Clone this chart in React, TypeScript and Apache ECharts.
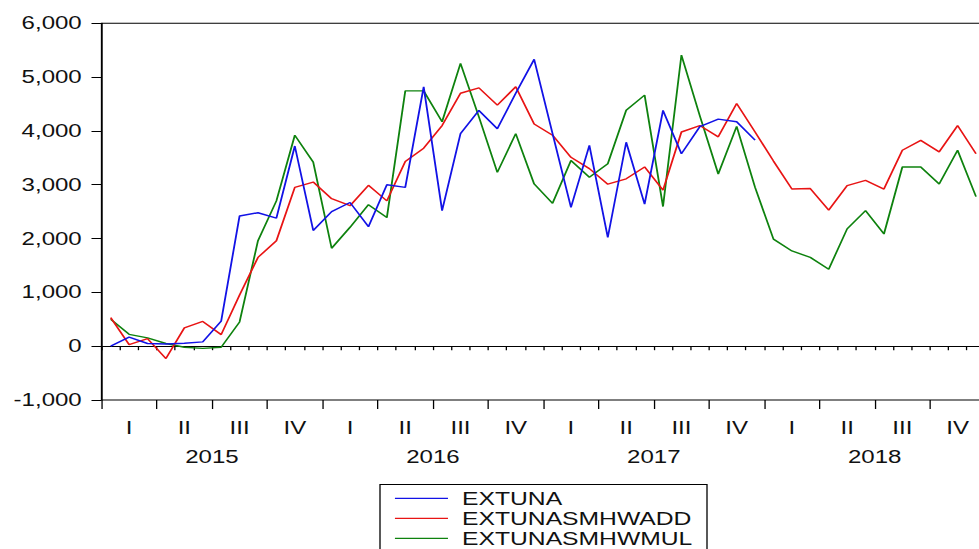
import React, { useEffect, useRef } from "react";
import * as echarts from "echarts";

// ---- data (monthly, 2015M01 .. 2018M12) ----
const months = [
  "2015M01", "2015M02", "2015M03", "2015M04", "2015M05", "2015M06",
  "2015M07", "2015M08", "2015M09", "2015M10", "2015M11", "2015M12",
  "2016M01", "2016M02", "2016M03", "2016M04", "2016M05", "2016M06",
  "2016M07", "2016M08", "2016M09", "2016M10", "2016M11", "2016M12",
  "2017M01", "2017M02", "2017M03", "2017M04", "2017M05", "2017M06",
  "2017M07", "2017M08", "2017M09", "2017M10", "2017M11", "2017M12",
  "2018M01", "2018M02", "2018M03", "2018M04", "2018M05", "2018M06",
  "2018M07", "2018M08", "2018M09", "2018M10", "2018M11", "2018M12",
];
const quarterLabels = [
  "I", "II", "III", "IV", "I", "II", "III", "IV",
  "I", "II", "III", "IV", "I", "II", "III", "IV",
];
const yearLabels = ["2015", "2016", "2017", "2018"];
const yTicks = [-1000, 0, 1000, 2000, 3000, 4000, 5000, 6000];

const seriesNames = ["EXTUNA", "EXTUNASMHWADD", "EXTUNASMHWMUL"];

const extuna = [
  0, 170, 50, 40, 55, 80, 465, 2420, 2480, 2380, 3720, 2150,
  2500, 2670, 2220, 3000, 2950, 4820, 2520, 3950, 4380, 4040, 4700, 5330,
  3950, 2580, 3730, 2020, 3790, 2640, 4380, 3575, 4080, 4220, 4170, 3830,
];
const extunaAdd = [
  530, 30, 140, -230, 340, 460, 215, 950, 1650, 1960, 2950, 3050,
  2740, 2610, 2990, 2700, 3430, 3680, 4100, 4700, 4800, 4480, 4820, 4130,
  3920, 3510, 3300, 3010, 3110, 3330, 2900, 3980, 4100, 3890, 4510, 3980,
  3440, 2920, 2930, 2530, 2985, 3080, 2920, 3640, 3825, 3610, 4100, 3575,
];
const extunaMul = [
  500, 220, 155, 50, -20, -40, -20, 450, 1960, 2700, 3920, 3420,
  1820, 2210, 2630, 2390, 4745, 4745, 4170, 5255, 4260, 3230, 3950, 3015,
  2655, 3450, 3140, 3390, 4385, 4665, 2595, 5410, 4280, 3200, 4085, 2950,
  1990, 1770, 1650, 1430, 2180, 2520, 2085, 3330, 3330, 3015, 3640, 2780,
];

const colors = ["#1212e6", "#e81414", "#0e820e"];

// ---- layout (chart drawn in unstretched coordinates, then stretched horizontally) ----
const S = 1.3;
const INNER_W = 770;
const H = 549;
const FONT = "'Liberation Sans', Arial, sans-serif";

export default function App() {
  const ref = useRef<HTMLDivElement>(null);

  useEffect(() => {
    if (!ref.current) return;
    const chart = echarts.init(ref.current, undefined, { renderer: "svg" });
    const axisStart = 101.5 / S;
    const axisEnd = 985.2 / S;
    const option: any = {
      animation: false,
      textStyle: { fontFamily: FONT },
      grid: {
        left: axisStart,
        right: INNER_W - axisEnd,
        top: 23.3,
        bottom: H - 400,
        show: true,
        borderColor: "#000",
        borderWidth: 1,
        backgroundColor: "transparent",
      },
      xAxis: [
        {
          type: "category",
          data: months,
          position: "bottom",
          boundaryGap: true,
          axisLine: { show: true, lineStyle: { color: "#000", width: 1 } },
          axisTick: { show: true, interval: 0, length: 4, lineStyle: { color: "#000", width: 1 } },
          axisLabel: { show: false },
          splitLine: { show: false },
        },
        {
          type: "category",
          data: quarterLabels,
          position: "bottom",
          boundaryGap: true,
          axisLine: { show: false },
          axisTick: { show: true, interval: 0, length: 9, lineStyle: { color: "#000", width: 1 } },
          axisLabel: { interval: 0, margin: 18.5, fontSize: 18.5, color: "#111", fontFamily: FONT },
          splitLine: { show: false },
        },
        {
          type: "category",
          data: yearLabels,
          position: "bottom",
          boundaryGap: true,
          axisLine: { show: false },
          axisTick: { show: false },
          axisLabel: { interval: 0, margin: 47.5, fontSize: 18.5, color: "#111", fontFamily: FONT },
          splitLine: { show: false },
        },
      ],
      yAxis: {
        type: "value",
        min: yTicks[0],
        max: yTicks[yTicks.length - 1],
        interval: 1000,
        axisLine: { show: true, lineStyle: { color: "#000", width: 1 } },
        axisTick: { show: true, length: 7.7, lineStyle: { color: "#000", width: 1 } },
        axisLabel: {
          margin: 15.2,
          fontSize: 18.5,
          color: "#111",
          fontFamily: FONT,
          formatter: (v: number) => v.toLocaleString("en-US"),
        },
        splitLine: { show: false },
      },
      legend: {
        orient: "vertical",
        left: 303.8,
        top: 488.3,
        padding: 0,
        itemGap: 0,
        itemWidth: 40.8,
        itemHeight: 1.3,
        icon: "rect",
        selectedMode: false,
        textStyle: {
          fontSize: 19,
          color: "#111",
          fontFamily: FONT,
          lineHeight: 20,
          padding: [0, 0, 0, 5.8],
        },
        data: seriesNames,
      },
      graphic: [
        {
          type: "rect",
          silent: true,
          shape: { x: 380 / S, y: 484.5, width: 327 / S, height: 100 },
          style: { fill: "none", stroke: "#000", lineWidth: 1 },
        },
      ],
      series: [extuna, extunaAdd, extunaMul].map((d, i) => ({
        name: seriesNames[i],
        type: "line",
        xAxisIndex: 0,
        data: d,
        symbol: "none",
        showSymbol: false,
        color: colors[i],
        itemStyle: { color: colors[i] },
        lineStyle: { color: colors[i], width: 1.4 },
        z: 3 - i,
      })),
    };
    chart.setOption(option);
    return () => chart.dispose();
  }, []);

  return (
    <div
      style={{
        position: "fixed",
        left: 0,
        top: 0,
        width: 979,
        height: H,
        overflow: "hidden",
        background: "#fff",
      }}
    >
      <div
        ref={ref}
        style={{
          width: INNER_W,
          height: H,
          transform: `scaleX(${S})`,
          transformOrigin: "0 0",
        }}
      />
    </div>
  );
}
